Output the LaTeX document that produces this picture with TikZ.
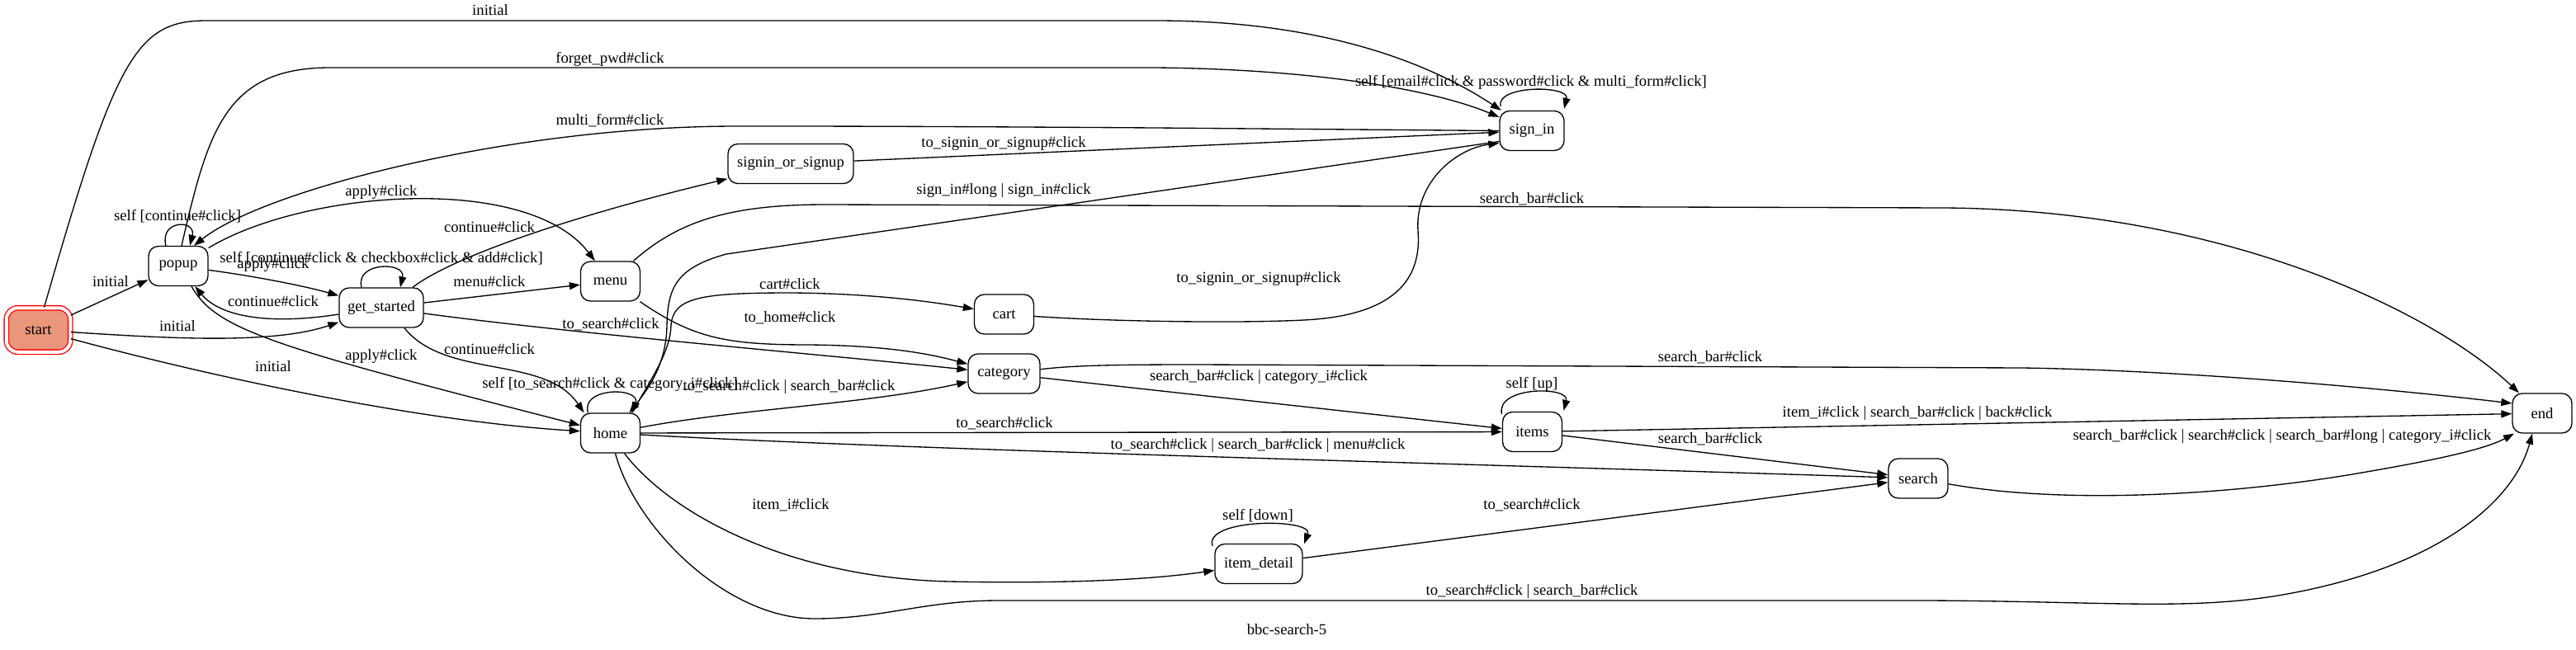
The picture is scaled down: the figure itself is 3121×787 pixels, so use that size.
\documentclass[tikz,border=0pt]{standalone}
\usepackage{fontspec}
\setmainfont{Liberation Serif}
\usetikzlibrary{arrows.meta}
\definecolor{dsalmon}{HTML}{E9967A}
\newcommand{\gvf}{\fontsize{18.67pt}{22pt}\selectfont}
\begin{document}
\begin{tikzpicture}[x=1pt,y=-1pt,
  st/.style={draw, line width=1.33pt, rounded corners=12pt, minimum height=48pt, minimum width=72pt, inner sep=0pt, font=\gvf},
  lbl/.style={inner sep=0pt, font=\gvf, text height=13pt, text depth=4pt},
  tr/.style={line width=1.33pt, -{Triangle[length=13pt,width=9pt]}},
]
\path[use as bounding box, fill=white] (0,0) rectangle (3121,787);

% states
\node[st, draw=red, fill=dsalmon, double=white, double distance=4pt, minimum width=77.5pt, minimum height=53.5pt, rounded corners=14pt] (start) at (46.5,400) {start};
\node[st] (popup) at (216,322.5) {popup};
\node[st, minimum width=102pt] (gs) at (462,373) {get\_started};
\node[st] (menu) at (739.5,341) {menu};
\node[st] (home) at (739.5,525) {home};
\node[st, minimum width=152pt] (sos) at (958,198.5) {signin\_or\_signup};
\node[st] (cart) at (1216.5,381) {cart};
\node[st, minimum width=87pt] (category) at (1216.5,453) {category};
\node[st, minimum width=78pt] (signin) at (1856,158.5) {sign\_in};
\node[st] (items) at (1856.5,523.5) {items};
\node[st] (search) at (2324,580) {search};
\node[st, minimum width=106pt] (detail) at (1525,683.5) {item\_detail};
\node[st] (endst) at (3080,501) {end};

% edges from start
\draw[tr] (start) -- (popup);
\draw[tr] (start) .. controls (200,410) and (330,418) .. (gs);
\draw[tr] (start) .. controls (250,455) and (500,510) .. (home);
\draw[tr] ([xshift=7pt]start.north) .. controls (140,70) and (165,25) .. (250,25) -- (1400,25) .. controls (1600,25) and (1730,75) .. (signin);

% popup
\draw[tr] ([xshift=-15pt]popup.north) .. controls (193,266) and (238,266) .. ([xshift=14pt]popup.north);
\draw[tr] (popup) .. controls (310,335) and (370,347) .. (gs);
\draw[tr] (gs) .. controls (320,395) and (265,382) .. (popup);
\draw[tr] (popup) .. controls (370,230) and (640,210) .. (menu);
\draw[tr] ([xshift=16pt]popup.south) .. controls (262,400) and (330,420) .. (home);
\draw[tr] ([xshift=4pt]popup.north) .. controls (252,160) and (272,82) .. (400,82) -- (1400,82) .. controls (1600,84) and (1740,110) .. (signin);
\draw[tr] (signin.west) -- (1400,155) .. controls (1100,153) and (1000,153) .. (893,153) .. controls (620,153) and (320,230) .. ([xshift=19pt]popup.north);

% get_started
\draw[tr] ([xshift=-24pt]gs.north) .. controls (430,317) and (492,317) .. ([xshift=23pt]gs.north);
\draw[tr] ([xshift=38pt]gs.north) .. controls (550,310) and (700,260) .. (sos);
\draw[tr] (gs) -- (menu);
\draw[tr] (gs) .. controls (700,405) and (1000,430) .. (category);
\draw[tr] ([xshift=28pt]gs.south) .. controls (540,460) and (660,430) .. ([xshift=-32pt]home.north);

% signin_or_signup, sign_in
\draw[tr] (sos) -- (signin);
\draw[tr] ([xshift=-38pt,yshift=5pt]signin.north) .. controls (1812,103) and (1902,103) .. ([xshift=39pt,yshift=2pt]signin.north);
\draw[tr] ([yshift=-13pt]signin.west) -- (880,308) .. controls (818,325) and (809,350) .. (808,395) .. controls (807,440) and (788,468) .. ([xshift=23pt]home.north);

% menu
\draw[tr] (menu) .. controls (820,270) and (880,248) .. (1000,248) -- (2357,252) .. controls (2700,255) and (2950,380) .. ([xshift=-28pt]endst.north);
\draw[tr] (menu) .. controls (840,410) and (880,418) .. (980,418) .. controls (1080,419) and (1130,430) .. (category);

% home
\draw[tr] ([xshift=-27pt]home.north) .. controls (703,469) and (776,469) .. ([xshift=27pt]home.north);
\draw[tr] ([xshift=26pt]home.north) .. controls (792,455) and (812,425) .. (813,395) .. controls (815,360) and (850,355) .. (960,355) .. controls (1060,356) and (1130,366) .. (cart);
\draw[tr] (home) .. controls (900,495) and (1050,490) .. (category);
\draw[tr] (home) -- (items);
\draw[tr] (home) .. controls (1100,545) and (1700,560) .. (search);
\draw[tr] ([xshift=17pt]home.south) .. controls (810,620) and (950,700) .. (1150,705) .. controls (1300,708) and (1400,702) .. (detail);
\draw[tr] ([xshift=6pt]home.south) .. controls (770,640) and (880,750) .. (987,750) .. controls (1070,750) and (1120,728) .. (1210,728) -- (2334,728) .. controls (2550,729) and (2650,740) .. (2760,722) .. controls (2950,690) and (3045,610) .. ([xshift=-12pt]endst.south);

% cart
\draw[tr] (cart) .. controls (1350,390) and (1500,392) .. (1580,388) .. controls (1700,382) and (1722,330) .. (1718,280) .. controls (1714,220) and (1765,180) .. ([yshift=-15pt]signin.west);

% category
\draw[tr] (category) .. controls (1300,443) and (1350,442) .. (1450,442) -- (2450,446) .. controls (2650,449) and (2900,472) .. ([yshift=12pt]endst.west);
\draw[tr] (category) -- (items);

% items
\draw[tr] ([xshift=-37pt,yshift=-3pt]items.north) .. controls (1812,468) and (1902,468) .. ([xshift=38pt,yshift=1pt]items.north);
\draw[tr] (items) -- (endst);
\draw[tr] (items) -- (search);

% item_detail
\draw[tr] ([xshift=-56pt,yshift=-3pt]detail.north) .. controls (1458,628) and (1592,628) .. ([xshift=55pt,yshift=-0.5pt]detail.north);
\draw[tr] (detail) -- (search);

% search
\draw[tr] (search) .. controls (2500,612) and (2700,600) .. (2850,575) .. controls (2950,558) and (3010,545) .. ([xshift=-34pt]endst.south);

% labels
\node[lbl] (l1) at (594,14) {initial};
\node[lbl] (l2) at (739,72) {forget\_pwd\#click};
\node[lbl] (l3) at (739,147) {multi\_form\#click};
\node[lbl] (l4) at (1216,174) {to\_signin\_or\_signup\#click};
\node[lbl] (l5) at (1216,231) {sign\_in\#long | sign\_in\#click};
\node[lbl] (l6) at (462,233) {apply\#click};
\node[lbl] (l7) at (215,263) {self [continue\#click]};
\node[lbl] (l8) at (593,277) {continue\#click};
\node[lbl] (l9) at (462,314) {self [continue\#click \& checkbox\#click \& add\#click]};
\node[lbl] (l10) at (331,321) {apply\#click};
\node[lbl] (l11) at (134,343) {initial};
\node[lbl] (l12) at (593,343) {menu\#click};
\node[lbl] (l13) at (331,367) {continue\#click};
\node[lbl] (l14) at (740,394) {to\_search\#click};
\node[lbl] (l15) at (215,397) {initial};
\node[lbl] (l16) at (593,425) {continue\#click};
\node[lbl] (l17) at (462,432) {apply\#click};
\node[lbl] (l18) at (331,446) {initial};
\node[lbl] (l19) at (739,466) {self [to\_search\#click \& category\_i\#click]};
\node[lbl] (l20) at (957,346) {cart\#click};
\node[lbl] (l21) at (957,386) {to\_home\#click};
\node[lbl] (l22) at (956,469) {to\_search\#click | search\_bar\#click};
\node[lbl] (l23) at (1856,242) {search\_bar\#click};
\node[lbl] (l24) at (1855,100) {self [email\#click \& password\#click \& multi\_form\#click]};
\node[lbl] (l25) at (1525,338) {to\_signin\_or\_signup\#click};
\node[lbl] (l26) at (2072,434) {search\_bar\#click};
\node[lbl] (l27) at (1525,457) {search\_bar\#click | category\_i\#click};
\node[lbl] (l28) at (1856,466) {self [up]};
\node[lbl] (l29) at (2323,501) {item\_i\#click | search\_bar\#click | back\#click};
\node[lbl] (l30) at (1217,514) {to\_search\#click};
\node[lbl] (l31) at (2072,533) {search\_bar\#click};
\node[lbl] (l32) at (2765,529) {search\_bar\#click | search\#click | search\_bar\#long | category\_i\#click};
\node[lbl] (l33) at (1524,540) {to\_search\#click | search\_bar\#click | menu\#click};
\node[lbl] (l34) at (958,613) {item\_i\#click};
\node[lbl] (l35) at (1856,613) {to\_search\#click};
\node[lbl] (l36) at (1524,626) {self [down]};
\node[lbl] (l37) at (1856,717) {to\_search\#click | search\_bar\#click};
\node[lbl] (l38) at (1559,765) {bbc-search-5};
\end{tikzpicture}
\end{document}
